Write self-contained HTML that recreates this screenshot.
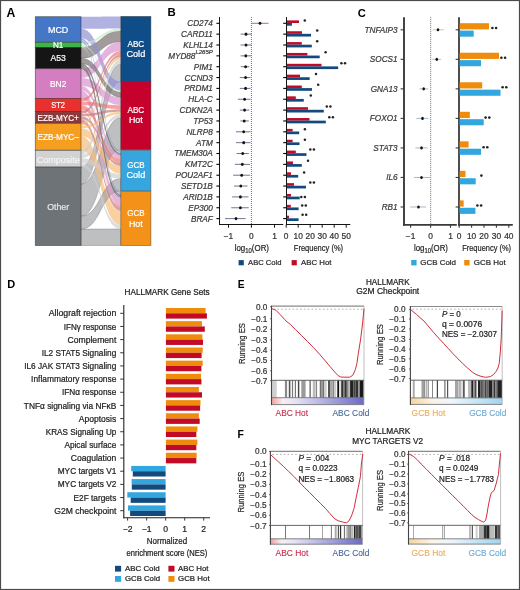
<!DOCTYPE html>
<html><head><meta charset="utf-8"><title>Figure</title>
<style>
html,body{margin:0;padding:0;background:#fff;}
svg{display:block;will-change:transform;filter:blur(0.3px);}
text{font-family:"Liberation Sans", sans-serif;}
</style></head>
<body>
<svg width="520" height="590" viewBox="0 0 520 590" font-family='"Liberation Sans", sans-serif'>
<rect x="0.50" y="0.50" width="519.00" height="589.00" fill="#fff" stroke="#4a4a4a" stroke-width="1.2"/>
<text x="6.60" y="16.84" font-size="12.2" fill="#000" font-weight="bold" >A</text>
<text x="167.60" y="16.45" font-size="11.4" fill="#000" font-weight="bold" >B</text>
<text x="357.70" y="16.73" font-size="11.2" fill="#000" font-weight="bold" >C</text>
<text x="7.20" y="288.16" font-size="11.0" fill="#000" font-weight="bold" >D</text>
<text x="237.70" y="288.07" font-size="10.2" fill="#000" font-weight="bold" >E</text>
<text x="237.60" y="437.84" font-size="10.4" fill="#000" font-weight="bold" >F</text>
<g>
<path d="M81.00,184.10 C100.90,184.10 100.90,117.71 120.80,117.71 L120.80,149.80 C100.90,149.80 100.90,216.10 81.00,216.10 Z" fill="#a2a4a7" fill-opacity="0.7" stroke="#5a5a5a" stroke-opacity="0.45" stroke-width="0.7"/>
<path d="M81.00,167.10 C100.90,167.10 100.90,64.20 120.80,64.20 L120.80,81.60 C100.90,81.60 100.90,184.10 81.00,184.10 Z" fill="#a2a4a7" fill-opacity="0.7" stroke="#5a5a5a" stroke-opacity="0.45" stroke-width="0.7"/>
<path d="M81.00,229.10 C100.90,229.10 100.90,228.95 120.80,228.95 L120.80,245.50 C100.90,245.50 100.90,245.50 81.00,245.50 Z" fill="#a2a4a7" fill-opacity="0.7" stroke="#5a5a5a" stroke-opacity="0.45" stroke-width="0.7"/>
<path d="M81.00,136.30 C100.90,136.30 100.90,210.78 120.80,210.78 L120.80,224.91 C100.90,224.91 100.90,150.30 81.00,150.30 Z" fill="#f8bc78" fill-opacity="0.7" stroke="none" stroke-opacity="0.45" stroke-width="0.7"/>
<path d="M81.00,216.10 C100.90,216.10 100.90,178.54 120.80,178.54 L120.80,190.90 C100.90,190.90 100.90,229.10 81.00,229.10 Z" fill="#a2a4a7" fill-opacity="0.7" stroke="#5a5a5a" stroke-opacity="0.45" stroke-width="0.7"/>
<path d="M81.00,16.70 C100.90,16.70 100.90,16.40 120.80,16.40 L120.80,28.38 C100.90,28.38 100.90,28.83 81.00,28.83 Z" fill="#9092d6" fill-opacity="0.7" stroke="none" stroke-opacity="0.45" stroke-width="0.7"/>
<path d="M81.00,47.50 C100.90,47.50 100.90,30.93 120.80,30.93 L120.80,41.68 C100.90,41.68 100.90,58.36 81.00,58.36 Z" fill="#7a7070" fill-opacity="0.7" stroke="#5a5a5a" stroke-opacity="0.45" stroke-width="0.7"/>
<path d="M81.00,28.83 C100.90,28.83 100.90,81.60 120.80,81.60 L120.80,90.63 C100.90,90.63 100.90,38.15 81.00,38.15 Z" fill="#9092d6" fill-opacity="0.7" stroke="none" stroke-opacity="0.45" stroke-width="0.7"/>
<path d="M81.00,68.70 C100.90,68.70 100.90,41.68 120.80,41.68 L120.80,50.89 C100.90,50.89 100.90,77.92 81.00,77.92 Z" fill="#da94d0" fill-opacity="0.7" stroke="none" stroke-opacity="0.45" stroke-width="0.7"/>
<path d="M81.00,77.92 C100.90,77.92 100.90,97.15 120.80,97.15 L120.80,105.17 C100.90,105.17 100.90,86.11 81.00,86.11 Z" fill="#da94d0" fill-opacity="0.7" stroke="none" stroke-opacity="0.45" stroke-width="0.7"/>
<path d="M81.00,90.21 C100.90,90.21 100.90,197.15 120.80,197.15 L120.80,205.23 C100.90,205.23 100.90,98.40 81.00,98.40 Z" fill="#da94d0" fill-opacity="0.7" stroke="none" stroke-opacity="0.45" stroke-width="0.7"/>
<path d="M81.00,128.30 C100.90,128.30 100.90,166.18 120.80,166.18 L120.80,173.79 C100.90,173.79 100.90,136.30 81.00,136.30 Z" fill="#f8bc78" fill-opacity="0.7" stroke="none" stroke-opacity="0.45" stroke-width="0.7"/>
<path d="M81.00,58.36 C100.90,58.36 100.90,92.13 120.80,92.13 L120.80,97.15 C100.90,97.15 100.90,63.53 81.00,63.53 Z" fill="#7a7070" fill-opacity="0.7" stroke="#5a5a5a" stroke-opacity="0.45" stroke-width="0.7"/>
<path d="M81.00,158.21 C100.90,158.21 100.90,173.79 120.80,173.79 L120.80,178.54 C100.90,178.54 100.90,163.15 81.00,163.15 Z" fill="#cfcfcf" fill-opacity="0.7" stroke="none" stroke-opacity="0.45" stroke-width="0.7"/>
<path d="M81.00,105.36 C100.90,105.36 100.90,158.58 120.80,158.58 L120.80,163.33 C100.90,163.33 100.90,110.01 81.00,110.01 Z" fill="#ee7a76" fill-opacity="0.7" stroke="none" stroke-opacity="0.45" stroke-width="0.7"/>
<path d="M81.00,150.30 C100.90,150.30 100.90,59.59 120.80,59.59 L120.80,64.20 C100.90,64.20 100.90,154.75 81.00,154.75 Z" fill="#cfcfcf" fill-opacity="0.7" stroke="none" stroke-opacity="0.45" stroke-width="0.7"/>
<path d="M81.00,86.11 C100.90,86.11 100.90,154.77 120.80,154.77 L120.80,158.58 C100.90,158.58 100.90,90.21 81.00,90.21 Z" fill="#da94d0" fill-opacity="0.7" stroke="none" stroke-opacity="0.45" stroke-width="0.7"/>
<path d="M81.00,119.33 C100.90,119.33 100.90,206.74 120.80,206.74 L120.80,210.78 C100.90,210.78 100.90,123.30 81.00,123.30 Z" fill="#c77c7e" fill-opacity="0.7" stroke="none" stroke-opacity="0.45" stroke-width="0.7"/>
<path d="M81.00,163.15 C100.90,163.15 100.90,224.91 120.80,224.91 L120.80,228.95 C100.90,228.95 100.90,167.10 81.00,167.10 Z" fill="#cfcfcf" fill-opacity="0.7" stroke="none" stroke-opacity="0.45" stroke-width="0.7"/>
<path d="M81.00,101.65 C100.90,101.65 100.90,105.17 120.80,105.17 L120.80,109.18 C100.90,109.18 100.90,105.36 81.00,105.36 Z" fill="#ee7a76" fill-opacity="0.7" stroke="none" stroke-opacity="0.45" stroke-width="0.7"/>
<path d="M81.00,154.75 C100.90,154.75 100.90,114.20 120.80,114.20 L120.80,117.71 C100.90,117.71 100.90,158.21 81.00,158.21 Z" fill="#cfcfcf" fill-opacity="0.7" stroke="none" stroke-opacity="0.45" stroke-width="0.7"/>
<path d="M81.00,98.40 C100.90,98.40 100.90,50.89 120.80,50.89 L120.80,54.48 C100.90,54.48 100.90,101.65 81.00,101.65 Z" fill="#ee7a76" fill-opacity="0.7" stroke="none" stroke-opacity="0.45" stroke-width="0.7"/>
<path d="M81.00,65.60 C100.90,65.60 100.90,194.12 120.80,194.12 L120.80,197.15 C100.90,197.15 100.90,68.70 81.00,68.70 Z" fill="#7a7070" fill-opacity="0.7" stroke="#5a5a5a" stroke-opacity="0.45" stroke-width="0.7"/>
<path d="M81.00,116.36 C100.90,116.36 100.90,163.33 120.80,163.33 L120.80,166.18 C100.90,166.18 100.90,119.33 81.00,119.33 Z" fill="#c77c7e" fill-opacity="0.7" stroke="none" stroke-opacity="0.45" stroke-width="0.7"/>
<path d="M81.00,125.80 C100.90,125.80 100.90,111.69 120.80,111.69 L120.80,114.20 C100.90,114.20 100.90,128.30 81.00,128.30 Z" fill="#f8bc78" fill-opacity="0.7" stroke="none" stroke-opacity="0.45" stroke-width="0.7"/>
<path d="M81.00,42.30 C100.90,42.30 100.90,28.38 120.80,28.38 L120.80,30.93 C100.90,30.93 100.90,44.80 81.00,44.80 Z" fill="#c4e8c8" fill-opacity="0.7" stroke="none" stroke-opacity="0.45" stroke-width="0.7"/>
<path d="M81.00,123.30 C100.90,123.30 100.90,57.03 120.80,57.03 L120.80,59.59 C100.90,59.59 100.90,125.80 81.00,125.80 Z" fill="#f8bc78" fill-opacity="0.7" stroke="none" stroke-opacity="0.45" stroke-width="0.7"/>
<path d="M81.00,111.40 C100.90,111.40 100.90,54.48 120.80,54.48 L120.80,57.03 C100.90,57.03 100.90,113.88 81.00,113.88 Z" fill="#c77c7e" fill-opacity="0.7" stroke="none" stroke-opacity="0.45" stroke-width="0.7"/>
<path d="M81.00,113.88 C100.90,113.88 100.90,109.18 120.80,109.18 L120.80,111.69 C100.90,111.69 100.90,116.36 81.00,116.36 Z" fill="#c77c7e" fill-opacity="0.7" stroke="none" stroke-opacity="0.45" stroke-width="0.7"/>
<path d="M81.00,38.15 C100.90,38.15 100.90,150.40 120.80,150.40 L120.80,152.30 C100.90,152.30 100.90,40.23 81.00,40.23 Z" fill="#9092d6" fill-opacity="0.7" stroke="none" stroke-opacity="0.45" stroke-width="0.7"/>
<path d="M81.00,40.23 C100.90,40.23 100.90,191.50 120.80,191.50 L120.80,193.52 C100.90,193.52 100.90,42.30 81.00,42.30 Z" fill="#9092d6" fill-opacity="0.7" stroke="none" stroke-opacity="0.45" stroke-width="0.7"/>
<path d="M81.00,63.53 C100.90,63.53 100.90,152.87 120.80,152.87 L120.80,154.77 C100.90,154.77 100.90,65.60 81.00,65.60 Z" fill="#7a7070" fill-opacity="0.7" stroke="#5a5a5a" stroke-opacity="0.45" stroke-width="0.7"/>
<path d="M81.00,44.80 C100.90,44.80 100.90,90.63 120.80,90.63 L120.80,92.13 C100.90,92.13 100.90,46.30 81.00,46.30 Z" fill="#c4e8c8" fill-opacity="0.7" stroke="none" stroke-opacity="0.45" stroke-width="0.7"/>
<path d="M81.00,110.01 C100.90,110.01 100.90,205.23 120.80,205.23 L120.80,206.74 C100.90,206.74 100.90,111.40 81.00,111.40 Z" fill="#ee7a76" fill-opacity="0.7" stroke="none" stroke-opacity="0.45" stroke-width="0.7"/>
<path d="M81.00,46.30 C100.90,46.30 100.90,152.30 120.80,152.30 L120.80,152.87 C100.90,152.87 100.90,46.90 81.00,46.90 Z" fill="#c4e8c8" fill-opacity="0.7" stroke="none" stroke-opacity="0.45" stroke-width="0.7"/>
<path d="M81.00,46.90 C100.90,46.90 100.90,193.52 120.80,193.52 L120.80,194.12 C100.90,194.12 100.90,47.50 81.00,47.50 Z" fill="#c4e8c8" fill-opacity="0.7" stroke="none" stroke-opacity="0.45" stroke-width="0.7"/>
</g>
<rect x="35.30" y="16.70" width="45.70" height="25.60" fill="#4677c7" stroke="#2a2a2a" stroke-opacity="0.6" stroke-width="0.8"/>
<rect x="35.30" y="42.30" width="45.70" height="5.20" fill="#3fb44a" stroke="#2a2a2a" stroke-opacity="0.6" stroke-width="0.8"/>
<rect x="35.30" y="47.50" width="45.70" height="21.20" fill="#151515" stroke="#2a2a2a" stroke-opacity="0.6" stroke-width="0.8"/>
<rect x="35.30" y="68.70" width="45.70" height="29.70" fill="#d57dc1" stroke="#2a2a2a" stroke-opacity="0.6" stroke-width="0.8"/>
<rect x="35.30" y="98.40" width="45.70" height="13.00" fill="#e8302e" stroke="#2a2a2a" stroke-opacity="0.6" stroke-width="0.8"/>
<rect x="35.30" y="111.40" width="45.70" height="11.90" fill="#8e3a3c" stroke="#2a2a2a" stroke-opacity="0.6" stroke-width="0.8"/>
<rect x="35.30" y="123.30" width="45.70" height="27.00" fill="#f59e1f" stroke="#2a2a2a" stroke-opacity="0.6" stroke-width="0.8"/>
<rect x="35.30" y="150.30" width="45.70" height="16.80" fill="#d2d2d2" stroke="#2a2a2a" stroke-opacity="0.6" stroke-width="0.8"/>
<rect x="35.30" y="167.10" width="45.70" height="78.40" fill="#6e7377" stroke="#2a2a2a" stroke-opacity="0.6" stroke-width="0.8"/>
<rect x="120.80" y="16.40" width="30.10" height="65.20" fill="#0f4d88" stroke="#2a2a2a" stroke-opacity="0.5" stroke-width="0.8"/>
<rect x="120.80" y="81.60" width="30.10" height="68.20" fill="#c6022c" stroke="#2a2a2a" stroke-opacity="0.5" stroke-width="0.8"/>
<rect x="120.80" y="150.40" width="30.10" height="40.50" fill="#38a6de" stroke="#2a2a2a" stroke-opacity="0.5" stroke-width="0.8"/>
<rect x="120.80" y="191.50" width="30.10" height="54.00" fill="#f39119" stroke="#2a2a2a" stroke-opacity="0.5" stroke-width="0.8"/>
<text x="48.00" y="32.61" font-size="9.2" fill="#fff" stroke="#fff" stroke-width="0.22" textLength="20.30" lengthAdjust="spacingAndGlyphs" >MCD</text>
<text x="52.90" y="48.31" font-size="9.2" fill="#fff" stroke="#fff" stroke-width="0.22" textLength="10.50" lengthAdjust="spacingAndGlyphs" >N1</text>
<text x="50.50" y="60.91" font-size="9.2" fill="#fff" stroke="#fff" stroke-width="0.22" textLength="15.30" lengthAdjust="spacingAndGlyphs" >A53</text>
<text x="50.00" y="87.11" font-size="9.2" fill="#fff" stroke="#fff" stroke-width="0.22" textLength="16.30" lengthAdjust="spacingAndGlyphs" >BN2</text>
<text x="51.25" y="107.91" font-size="9.2" fill="#fff" stroke="#fff" stroke-width="0.22" textLength="13.80" lengthAdjust="spacingAndGlyphs" >ST2</text>
<text x="37.50" y="120.61" font-size="9.2" fill="#fff" stroke="#fff" stroke-width="0.22" textLength="41.30" lengthAdjust="spacingAndGlyphs" >EZB-MYC+</text>
<text x="37.50" y="139.71" font-size="9.2" fill="#fff" stroke="#fff" stroke-width="0.22" textLength="41.30" lengthAdjust="spacingAndGlyphs" >EZB-MYC–</text>
<text x="36.65" y="162.71" font-size="9.2" fill="#f4f4f4" stroke="#f4f4f4" stroke-width="0.22" textLength="43.00" lengthAdjust="spacingAndGlyphs" >Composite</text>
<text x="47.15" y="209.61" font-size="9.2" fill="#e6e6e6" stroke="#e6e6e6" stroke-width="0.22" textLength="22.00" lengthAdjust="spacingAndGlyphs" >Other</text>
<text x="127.45" y="47.11" font-size="9.2" fill="#fff" stroke="#fff" stroke-width="0.22" textLength="16.80" lengthAdjust="spacingAndGlyphs" >ABC</text>
<text x="126.45" y="57.21" font-size="9.2" fill="#fff" stroke="#fff" stroke-width="0.22" textLength="18.80" lengthAdjust="spacingAndGlyphs" >Cold</text>
<text x="127.45" y="113.31" font-size="9.2" fill="#fff" stroke="#fff" stroke-width="0.22" textLength="16.80" lengthAdjust="spacingAndGlyphs" >ABC</text>
<text x="128.95" y="123.41" font-size="9.2" fill="#fff" stroke="#fff" stroke-width="0.22" textLength="13.80" lengthAdjust="spacingAndGlyphs" >Hot</text>
<text x="127.25" y="168.31" font-size="9.2" fill="#fff" stroke="#fff" stroke-width="0.22" textLength="17.20" lengthAdjust="spacingAndGlyphs" >GCB</text>
<text x="126.45" y="178.41" font-size="9.2" fill="#fff" stroke="#fff" stroke-width="0.22" textLength="18.80" lengthAdjust="spacingAndGlyphs" >Cold</text>
<text x="127.25" y="215.81" font-size="9.2" fill="#fff" stroke="#fff" stroke-width="0.22" textLength="17.20" lengthAdjust="spacingAndGlyphs" >GCB</text>
<text x="128.95" y="226.61" font-size="9.2" fill="#fff" stroke="#fff" stroke-width="0.22" textLength="13.80" lengthAdjust="spacingAndGlyphs" >Hot</text>
<text x="212.80" y="26.25" font-size="8.2" fill="#3a3a3a" stroke="#3a3a3a" stroke-width="0.22" text-anchor="end" font-style="italic" >CD274</text>
<text x="212.80" y="37.10" font-size="8.2" fill="#3a3a3a" stroke="#3a3a3a" stroke-width="0.22" text-anchor="end" font-style="italic" >CARD11</text>
<text x="212.80" y="47.95" font-size="8.2" fill="#3a3a3a" stroke="#3a3a3a" stroke-width="0.22" text-anchor="end" font-style="italic" >KLHL14</text>
<text x="212.8" y="58.80" font-size="8.2" fill="#3a3a3a" font-style="italic" text-anchor="end" stroke="#3a3a3a" stroke-width="0.22">MYD88<tspan font-size="6.0" dy="-4.4">L265P</tspan></text>
<text x="212.80" y="69.65" font-size="8.2" fill="#3a3a3a" stroke="#3a3a3a" stroke-width="0.22" text-anchor="end" font-style="italic" >PIM1</text>
<text x="212.80" y="80.50" font-size="8.2" fill="#3a3a3a" stroke="#3a3a3a" stroke-width="0.22" text-anchor="end" font-style="italic" >CCND3</text>
<text x="212.80" y="91.35" font-size="8.2" fill="#3a3a3a" stroke="#3a3a3a" stroke-width="0.22" text-anchor="end" font-style="italic" >PRDM1</text>
<text x="212.80" y="102.20" font-size="8.2" fill="#3a3a3a" stroke="#3a3a3a" stroke-width="0.22" text-anchor="end" font-style="italic" >HLA-C</text>
<text x="212.80" y="113.05" font-size="8.2" fill="#3a3a3a" stroke="#3a3a3a" stroke-width="0.22" text-anchor="end" font-style="italic" >CDKN2A</text>
<text x="212.80" y="123.90" font-size="8.2" fill="#3a3a3a" stroke="#3a3a3a" stroke-width="0.22" text-anchor="end" font-style="italic" >TP53</text>
<text x="212.80" y="134.75" font-size="8.2" fill="#3a3a3a" stroke="#3a3a3a" stroke-width="0.22" text-anchor="end" font-style="italic" >NLRP8</text>
<text x="212.80" y="145.60" font-size="8.2" fill="#3a3a3a" stroke="#3a3a3a" stroke-width="0.22" text-anchor="end" font-style="italic" >ATM</text>
<text x="212.80" y="156.45" font-size="8.2" fill="#3a3a3a" stroke="#3a3a3a" stroke-width="0.22" text-anchor="end" font-style="italic" >TMEM30A</text>
<text x="212.80" y="167.30" font-size="8.2" fill="#3a3a3a" stroke="#3a3a3a" stroke-width="0.22" text-anchor="end" font-style="italic" >KMT2C</text>
<text x="212.80" y="178.15" font-size="8.2" fill="#3a3a3a" stroke="#3a3a3a" stroke-width="0.22" text-anchor="end" font-style="italic" >POU2AF1</text>
<text x="212.80" y="189.00" font-size="8.2" fill="#3a3a3a" stroke="#3a3a3a" stroke-width="0.22" text-anchor="end" font-style="italic" >SETD1B</text>
<text x="212.80" y="199.85" font-size="8.2" fill="#3a3a3a" stroke="#3a3a3a" stroke-width="0.22" text-anchor="end" font-style="italic" >ARID1B</text>
<text x="212.80" y="210.70" font-size="8.2" fill="#3a3a3a" stroke="#3a3a3a" stroke-width="0.22" text-anchor="end" font-style="italic" >EP300</text>
<text x="212.80" y="221.55" font-size="8.2" fill="#3a3a3a" stroke="#3a3a3a" stroke-width="0.22" text-anchor="end" font-style="italic" >BRAF</text>
<line x1="219.50" y1="17.00" x2="219.50" y2="225.00" stroke="#151515" stroke-width="1.0" />
<line x1="219.00" y1="224.50" x2="283.20" y2="224.50" stroke="#151515" stroke-width="1.0" />
<line x1="216.40" y1="23.30" x2="219.50" y2="23.30" stroke="#000" stroke-width="1.1" />
<line x1="216.40" y1="34.15" x2="219.50" y2="34.15" stroke="#000" stroke-width="1.1" />
<line x1="216.40" y1="45.00" x2="219.50" y2="45.00" stroke="#000" stroke-width="1.1" />
<line x1="216.40" y1="55.85" x2="219.50" y2="55.85" stroke="#000" stroke-width="1.1" />
<line x1="216.40" y1="66.70" x2="219.50" y2="66.70" stroke="#000" stroke-width="1.1" />
<line x1="216.40" y1="77.55" x2="219.50" y2="77.55" stroke="#000" stroke-width="1.1" />
<line x1="216.40" y1="88.40" x2="219.50" y2="88.40" stroke="#000" stroke-width="1.1" />
<line x1="216.40" y1="99.25" x2="219.50" y2="99.25" stroke="#000" stroke-width="1.1" />
<line x1="216.40" y1="110.10" x2="219.50" y2="110.10" stroke="#000" stroke-width="1.1" />
<line x1="216.40" y1="120.95" x2="219.50" y2="120.95" stroke="#000" stroke-width="1.1" />
<line x1="216.40" y1="131.80" x2="219.50" y2="131.80" stroke="#000" stroke-width="1.1" />
<line x1="216.40" y1="142.65" x2="219.50" y2="142.65" stroke="#000" stroke-width="1.1" />
<line x1="216.40" y1="153.50" x2="219.50" y2="153.50" stroke="#000" stroke-width="1.1" />
<line x1="216.40" y1="164.35" x2="219.50" y2="164.35" stroke="#000" stroke-width="1.1" />
<line x1="216.40" y1="175.20" x2="219.50" y2="175.20" stroke="#000" stroke-width="1.1" />
<line x1="216.40" y1="186.05" x2="219.50" y2="186.05" stroke="#000" stroke-width="1.1" />
<line x1="216.40" y1="196.90" x2="219.50" y2="196.90" stroke="#000" stroke-width="1.1" />
<line x1="216.40" y1="207.75" x2="219.50" y2="207.75" stroke="#000" stroke-width="1.1" />
<line x1="216.40" y1="218.60" x2="219.50" y2="218.60" stroke="#000" stroke-width="1.1" />
<line x1="228.50" y1="224.50" x2="228.50" y2="227.70" stroke="#151515" stroke-width="1.0" />
<text x="228.50" y="239.22" font-size="8.4" fill="#333" stroke="#333" stroke-width="0.22" text-anchor="middle" >−1</text>
<line x1="251.40" y1="224.50" x2="251.40" y2="227.70" stroke="#151515" stroke-width="1.0" />
<text x="251.40" y="239.22" font-size="8.4" fill="#333" stroke="#333" stroke-width="0.22" text-anchor="middle" >0</text>
<line x1="274.50" y1="224.50" x2="274.50" y2="227.70" stroke="#151515" stroke-width="1.0" />
<text x="274.50" y="239.22" font-size="8.4" fill="#333" stroke="#333" stroke-width="0.22" text-anchor="middle" >1</text>
<line x1="251.40" y1="17.00" x2="251.40" y2="224.20" stroke="#333" stroke-width="0.7" stroke-dasharray="1,1"/>
<line x1="251.70" y1="23.30" x2="268.50" y2="23.30" stroke="#9a4a5a" stroke-width="0.8" />
<ellipse cx="260.00" cy="23.30" rx="1.4" ry="1.55" fill="#111"/>
<line x1="240.60" y1="34.15" x2="251.70" y2="34.15" stroke="#4c5572" stroke-width="0.8" />
<ellipse cx="246.00" cy="34.15" rx="1.4" ry="1.55" fill="#111"/>
<line x1="240.60" y1="45.00" x2="251.50" y2="45.00" stroke="#4c5572" stroke-width="0.8" />
<ellipse cx="246.00" cy="45.00" rx="1.4" ry="1.55" fill="#111"/>
<line x1="240.60" y1="55.85" x2="251.30" y2="55.85" stroke="#4c5572" stroke-width="0.8" />
<ellipse cx="245.80" cy="55.85" rx="1.4" ry="1.55" fill="#111"/>
<line x1="240.80" y1="66.70" x2="249.40" y2="66.70" stroke="#4c5572" stroke-width="0.8" />
<ellipse cx="245.60" cy="66.70" rx="1.4" ry="1.55" fill="#111"/>
<line x1="239.80" y1="77.55" x2="250.40" y2="77.55" stroke="#4c5572" stroke-width="0.8" />
<ellipse cx="245.60" cy="77.55" rx="1.4" ry="1.55" fill="#111"/>
<line x1="239.80" y1="88.40" x2="250.40" y2="88.40" stroke="#4c5572" stroke-width="0.8" />
<ellipse cx="245.60" cy="88.40" rx="1.4" ry="1.55" fill="#111"/>
<line x1="237.90" y1="99.25" x2="250.40" y2="99.25" stroke="#4c5572" stroke-width="0.8" />
<ellipse cx="244.60" cy="99.25" rx="1.4" ry="1.55" fill="#111"/>
<line x1="239.80" y1="110.10" x2="249.40" y2="110.10" stroke="#4c5572" stroke-width="0.8" />
<ellipse cx="244.60" cy="110.10" rx="1.4" ry="1.55" fill="#111"/>
<line x1="240.40" y1="120.95" x2="248.80" y2="120.95" stroke="#4c5572" stroke-width="0.8" />
<ellipse cx="244.20" cy="120.95" rx="1.4" ry="1.55" fill="#111"/>
<line x1="236.00" y1="131.80" x2="250.40" y2="131.80" stroke="#4c5572" stroke-width="0.8" />
<ellipse cx="243.70" cy="131.80" rx="1.4" ry="1.55" fill="#111"/>
<line x1="236.00" y1="142.65" x2="250.40" y2="142.65" stroke="#4c5572" stroke-width="0.8" />
<ellipse cx="243.70" cy="142.65" rx="1.4" ry="1.55" fill="#111"/>
<line x1="236.50" y1="153.50" x2="248.80" y2="153.50" stroke="#4c5572" stroke-width="0.8" />
<ellipse cx="242.70" cy="153.50" rx="1.4" ry="1.55" fill="#111"/>
<line x1="235.00" y1="164.35" x2="250.00" y2="164.35" stroke="#4c5572" stroke-width="0.8" />
<ellipse cx="242.30" cy="164.35" rx="1.4" ry="1.55" fill="#111"/>
<line x1="233.10" y1="175.20" x2="250.00" y2="175.20" stroke="#4c5572" stroke-width="0.8" />
<ellipse cx="241.70" cy="175.20" rx="1.4" ry="1.55" fill="#111"/>
<line x1="234.00" y1="186.05" x2="247.50" y2="186.05" stroke="#4c5572" stroke-width="0.8" />
<ellipse cx="240.80" cy="186.05" rx="1.4" ry="1.55" fill="#111"/>
<line x1="232.10" y1="196.90" x2="248.50" y2="196.90" stroke="#4c5572" stroke-width="0.8" />
<ellipse cx="240.40" cy="196.90" rx="1.4" ry="1.55" fill="#111"/>
<line x1="231.20" y1="207.75" x2="248.80" y2="207.75" stroke="#4c5572" stroke-width="0.8" />
<ellipse cx="240.40" cy="207.75" rx="1.4" ry="1.55" fill="#111"/>
<line x1="225.00" y1="218.60" x2="245.60" y2="218.60" stroke="#4c5572" stroke-width="0.8" />
<ellipse cx="236.00" cy="218.60" rx="1.4" ry="1.55" fill="#111"/>
<line x1="286.50" y1="17.00" x2="286.50" y2="225.00" stroke="#151515" stroke-width="1.0" />
<line x1="286.00" y1="224.50" x2="350.30" y2="224.50" stroke="#151515" stroke-width="1.0" />
<line x1="283.20" y1="23.30" x2="286.50" y2="23.30" stroke="#000" stroke-width="1.1" />
<line x1="283.20" y1="34.15" x2="286.50" y2="34.15" stroke="#000" stroke-width="1.1" />
<line x1="283.20" y1="45.00" x2="286.50" y2="45.00" stroke="#000" stroke-width="1.1" />
<line x1="283.20" y1="55.85" x2="286.50" y2="55.85" stroke="#000" stroke-width="1.1" />
<line x1="283.20" y1="66.70" x2="286.50" y2="66.70" stroke="#000" stroke-width="1.1" />
<line x1="283.20" y1="77.55" x2="286.50" y2="77.55" stroke="#000" stroke-width="1.1" />
<line x1="283.20" y1="88.40" x2="286.50" y2="88.40" stroke="#000" stroke-width="1.1" />
<line x1="283.20" y1="99.25" x2="286.50" y2="99.25" stroke="#000" stroke-width="1.1" />
<line x1="283.20" y1="110.10" x2="286.50" y2="110.10" stroke="#000" stroke-width="1.1" />
<line x1="283.20" y1="120.95" x2="286.50" y2="120.95" stroke="#000" stroke-width="1.1" />
<line x1="283.20" y1="131.80" x2="286.50" y2="131.80" stroke="#000" stroke-width="1.1" />
<line x1="283.20" y1="142.65" x2="286.50" y2="142.65" stroke="#000" stroke-width="1.1" />
<line x1="283.20" y1="153.50" x2="286.50" y2="153.50" stroke="#000" stroke-width="1.1" />
<line x1="283.20" y1="164.35" x2="286.50" y2="164.35" stroke="#000" stroke-width="1.1" />
<line x1="283.20" y1="175.20" x2="286.50" y2="175.20" stroke="#000" stroke-width="1.1" />
<line x1="283.20" y1="186.05" x2="286.50" y2="186.05" stroke="#000" stroke-width="1.1" />
<line x1="283.20" y1="196.90" x2="286.50" y2="196.90" stroke="#000" stroke-width="1.1" />
<line x1="283.20" y1="207.75" x2="286.50" y2="207.75" stroke="#000" stroke-width="1.1" />
<line x1="283.20" y1="218.60" x2="286.50" y2="218.60" stroke="#000" stroke-width="1.1" />
<line x1="286.20" y1="224.50" x2="286.20" y2="227.70" stroke="#151515" stroke-width="1.0" />
<text x="286.20" y="239.22" font-size="8.4" fill="#333" stroke="#333" stroke-width="0.22" text-anchor="middle" >0</text>
<line x1="298.20" y1="224.50" x2="298.20" y2="227.70" stroke="#151515" stroke-width="1.0" />
<text x="298.20" y="239.22" font-size="8.4" fill="#333" stroke="#333" stroke-width="0.22" text-anchor="middle" >10</text>
<line x1="310.20" y1="224.50" x2="310.20" y2="227.70" stroke="#151515" stroke-width="1.0" />
<text x="310.20" y="239.22" font-size="8.4" fill="#333" stroke="#333" stroke-width="0.22" text-anchor="middle" >20</text>
<line x1="322.20" y1="224.50" x2="322.20" y2="227.70" stroke="#151515" stroke-width="1.0" />
<text x="322.20" y="239.22" font-size="8.4" fill="#333" stroke="#333" stroke-width="0.22" text-anchor="middle" >30</text>
<line x1="334.20" y1="224.50" x2="334.20" y2="227.70" stroke="#151515" stroke-width="1.0" />
<text x="334.20" y="239.22" font-size="8.4" fill="#333" stroke="#333" stroke-width="0.22" text-anchor="middle" >40</text>
<line x1="346.20" y1="224.50" x2="346.20" y2="227.70" stroke="#151515" stroke-width="1.0" />
<text x="346.20" y="239.22" font-size="8.4" fill="#333" stroke="#333" stroke-width="0.22" text-anchor="middle" >50</text>
<rect x="286.90" y="20.40" width="12.10" height="2.60" fill="#c00a26" />
<rect x="286.90" y="23.00" width="5.00" height="2.70" fill="#134a7e" />
<rect x="286.90" y="31.25" width="15.10" height="2.60" fill="#c00a26" />
<rect x="286.90" y="33.85" width="24.10" height="2.70" fill="#134a7e" />
<rect x="286.90" y="42.10" width="14.90" height="2.60" fill="#c00a26" />
<rect x="286.90" y="44.70" width="24.90" height="2.70" fill="#134a7e" />
<rect x="286.90" y="52.95" width="20.50" height="2.60" fill="#c00a26" />
<rect x="286.90" y="55.55" width="32.80" height="2.70" fill="#134a7e" />
<rect x="286.90" y="63.80" width="34.60" height="2.60" fill="#c00a26" />
<rect x="286.90" y="66.40" width="51.30" height="2.70" fill="#134a7e" />
<rect x="286.90" y="74.65" width="13.10" height="2.60" fill="#c00a26" />
<rect x="286.90" y="77.25" width="22.80" height="2.70" fill="#134a7e" />
<rect x="286.90" y="85.50" width="14.90" height="2.60" fill="#c00a26" />
<rect x="286.90" y="88.10" width="25.10" height="2.70" fill="#134a7e" />
<rect x="286.90" y="96.35" width="8.90" height="2.60" fill="#c00a26" />
<rect x="286.90" y="98.95" width="16.90" height="2.70" fill="#134a7e" />
<rect x="286.90" y="107.20" width="21.10" height="2.60" fill="#c00a26" />
<rect x="286.90" y="109.80" width="36.90" height="2.70" fill="#134a7e" />
<rect x="286.90" y="118.05" width="22.60" height="2.60" fill="#c00a26" />
<rect x="286.90" y="120.65" width="38.90" height="2.70" fill="#134a7e" />
<rect x="286.90" y="128.90" width="5.70" height="2.60" fill="#c00a26" />
<rect x="286.90" y="131.50" width="12.30" height="2.70" fill="#134a7e" />
<rect x="286.90" y="139.75" width="5.70" height="2.60" fill="#c00a26" />
<rect x="286.90" y="142.35" width="12.60" height="2.70" fill="#134a7e" />
<rect x="286.90" y="150.60" width="8.90" height="2.60" fill="#c00a26" />
<rect x="286.90" y="153.20" width="19.60" height="2.70" fill="#134a7e" />
<rect x="286.90" y="161.45" width="6.10" height="2.60" fill="#c00a26" />
<rect x="286.90" y="164.05" width="14.90" height="2.70" fill="#134a7e" />
<rect x="286.90" y="172.30" width="4.10" height="2.60" fill="#c00a26" />
<rect x="286.90" y="174.90" width="11.30" height="2.70" fill="#134a7e" />
<rect x="286.90" y="183.15" width="7.10" height="2.60" fill="#c00a26" />
<rect x="286.90" y="185.75" width="19.10" height="2.70" fill="#134a7e" />
<rect x="286.90" y="194.00" width="4.10" height="2.60" fill="#c00a26" />
<rect x="286.90" y="196.60" width="12.80" height="2.70" fill="#134a7e" />
<rect x="286.90" y="204.85" width="3.90" height="2.60" fill="#c00a26" />
<rect x="286.90" y="207.45" width="11.70" height="2.70" fill="#134a7e" />
<rect x="286.90" y="215.70" width="2.10" height="2.60" fill="#c00a26" />
<rect x="286.90" y="218.30" width="11.70" height="2.70" fill="#134a7e" />
<circle cx="304.80" cy="20.40" r="1.25" fill="#222"/>
<circle cx="317.20" cy="30.50" r="1.25" fill="#222"/>
<circle cx="317.20" cy="41.20" r="1.25" fill="#222"/>
<circle cx="325.60" cy="52.20" r="1.25" fill="#222"/>
<circle cx="341.40" cy="63.20" r="1.25" fill="#222"/>
<circle cx="345.00" cy="63.20" r="1.25" fill="#222"/>
<circle cx="316.00" cy="74.00" r="1.25" fill="#222"/>
<circle cx="318.20" cy="84.80" r="1.25" fill="#222"/>
<circle cx="310.80" cy="95.60" r="1.25" fill="#222"/>
<circle cx="326.80" cy="106.60" r="1.25" fill="#222"/>
<circle cx="330.40" cy="106.60" r="1.25" fill="#222"/>
<circle cx="329.30" cy="117.30" r="1.25" fill="#222"/>
<circle cx="332.90" cy="117.30" r="1.25" fill="#222"/>
<circle cx="304.90" cy="129.30" r="1.25" fill="#222"/>
<circle cx="304.90" cy="139.70" r="1.25" fill="#222"/>
<circle cx="310.30" cy="149.40" r="1.25" fill="#222"/>
<circle cx="313.90" cy="149.40" r="1.25" fill="#222"/>
<circle cx="308.00" cy="160.70" r="1.25" fill="#222"/>
<circle cx="304.10" cy="172.40" r="1.25" fill="#222"/>
<circle cx="310.30" cy="182.40" r="1.25" fill="#222"/>
<circle cx="313.90" cy="182.40" r="1.25" fill="#222"/>
<circle cx="301.30" cy="196.90" r="1.25" fill="#222"/>
<circle cx="304.90" cy="196.90" r="1.25" fill="#222"/>
<circle cx="302.20" cy="205.50" r="1.25" fill="#222"/>
<circle cx="305.80" cy="205.50" r="1.25" fill="#222"/>
<circle cx="302.60" cy="214.80" r="1.25" fill="#222"/>
<circle cx="306.20" cy="214.80" r="1.25" fill="#222"/>
<text x="234.70" y="251.06" font-size="9.6" fill="#1e1e1e" stroke="#1e1e1e" stroke-width="0.22" textLength="34.30" lengthAdjust="spacingAndGlyphs" >log<tspan font-size="7.2" dy="2.4">10</tspan><tspan dy="-2.4">(OR)</tspan></text>
<text x="293.80" y="251.13" font-size="9.8" fill="#1e1e1e" stroke="#1e1e1e" stroke-width="0.22" textLength="49.30" lengthAdjust="spacingAndGlyphs" >Frequency (%)</text>
<rect x="238.60" y="260.10" width="5.20" height="5.20" fill="#134a7e" />
<text x="248.10" y="264.94" font-size="7.6" fill="#2a2a2a" stroke="#2a2a2a" stroke-width="0.22" textLength="33.40" lengthAdjust="spacingAndGlyphs" >ABC Cold</text>
<rect x="291.60" y="260.10" width="5.20" height="5.20" fill="#c00a26" />
<text x="300.90" y="264.94" font-size="7.6" fill="#2a2a2a" stroke="#2a2a2a" stroke-width="0.22" textLength="30.60" lengthAdjust="spacingAndGlyphs" >ABC Hot</text>
<text x="397.60" y="32.75" font-size="8.2" fill="#3a3a3a" stroke="#3a3a3a" stroke-width="0.22" text-anchor="end" font-style="italic" >TNFAIP3</text>
<text x="397.60" y="62.28" font-size="8.2" fill="#3a3a3a" stroke="#3a3a3a" stroke-width="0.22" text-anchor="end" font-style="italic" >SOCS1</text>
<text x="397.60" y="91.81" font-size="8.2" fill="#3a3a3a" stroke="#3a3a3a" stroke-width="0.22" text-anchor="end" font-style="italic" >GNA13</text>
<text x="397.60" y="121.34" font-size="8.2" fill="#3a3a3a" stroke="#3a3a3a" stroke-width="0.22" text-anchor="end" font-style="italic" >FOXO1</text>
<text x="397.60" y="150.87" font-size="8.2" fill="#3a3a3a" stroke="#3a3a3a" stroke-width="0.22" text-anchor="end" font-style="italic" >STAT3</text>
<text x="397.60" y="180.40" font-size="8.2" fill="#3a3a3a" stroke="#3a3a3a" stroke-width="0.22" text-anchor="end" font-style="italic" >IL6</text>
<text x="397.60" y="209.93" font-size="8.2" fill="#3a3a3a" stroke="#3a3a3a" stroke-width="0.22" text-anchor="end" font-style="italic" >RB1</text>
<line x1="404.00" y1="17.20" x2="404.00" y2="225.80" stroke="#3a3a3a" stroke-width="1.9" />
<line x1="403.10" y1="224.90" x2="456.80" y2="224.90" stroke="#3a3a3a" stroke-width="1.8" />
<line x1="400.60" y1="29.80" x2="404.00" y2="29.80" stroke="#3a3a3a" stroke-width="1.1" />
<line x1="400.60" y1="59.33" x2="404.00" y2="59.33" stroke="#3a3a3a" stroke-width="1.1" />
<line x1="400.60" y1="88.86" x2="404.00" y2="88.86" stroke="#3a3a3a" stroke-width="1.1" />
<line x1="400.60" y1="118.39" x2="404.00" y2="118.39" stroke="#3a3a3a" stroke-width="1.1" />
<line x1="400.60" y1="147.92" x2="404.00" y2="147.92" stroke="#3a3a3a" stroke-width="1.1" />
<line x1="400.60" y1="177.45" x2="404.00" y2="177.45" stroke="#3a3a3a" stroke-width="1.1" />
<line x1="400.60" y1="206.98" x2="404.00" y2="206.98" stroke="#3a3a3a" stroke-width="1.1" />
<line x1="410.60" y1="224.90" x2="410.60" y2="227.80" stroke="#3a3a3a" stroke-width="1.1" />
<text x="410.60" y="238.92" font-size="8.4" fill="#333" stroke="#333" stroke-width="0.22" text-anchor="middle" >−1</text>
<line x1="430.60" y1="224.90" x2="430.60" y2="227.80" stroke="#3a3a3a" stroke-width="1.1" />
<text x="430.60" y="238.92" font-size="8.4" fill="#333" stroke="#333" stroke-width="0.22" text-anchor="middle" >0</text>
<line x1="450.50" y1="224.90" x2="450.50" y2="227.80" stroke="#3a3a3a" stroke-width="1.1" />
<text x="450.50" y="238.92" font-size="8.4" fill="#333" stroke="#333" stroke-width="0.22" text-anchor="middle" >1</text>
<line x1="430.70" y1="17.20" x2="430.70" y2="224.00" stroke="#333" stroke-width="0.7" stroke-dasharray="1,1"/>
<line x1="432.70" y1="29.80" x2="443.90" y2="29.80" stroke="#dcc2a0" stroke-width="1.0" />
<ellipse cx="438.00" cy="29.80" rx="1.3" ry="1.55" fill="#111"/>
<line x1="432.00" y1="59.33" x2="441.20" y2="59.33" stroke="#dcc2a0" stroke-width="1.0" />
<ellipse cx="436.80" cy="59.33" rx="1.3" ry="1.55" fill="#111"/>
<line x1="419.40" y1="88.86" x2="428.30" y2="88.86" stroke="#a8b8c8" stroke-width="1.0" />
<ellipse cx="423.70" cy="88.86" rx="1.3" ry="1.55" fill="#111"/>
<line x1="416.30" y1="118.39" x2="428.30" y2="118.39" stroke="#a8b8c8" stroke-width="1.0" />
<ellipse cx="422.50" cy="118.39" rx="1.3" ry="1.55" fill="#111"/>
<line x1="415.40" y1="147.92" x2="427.70" y2="147.92" stroke="#a8b8c8" stroke-width="1.0" />
<ellipse cx="421.50" cy="147.92" rx="1.3" ry="1.55" fill="#111"/>
<line x1="413.80" y1="177.45" x2="430.20" y2="177.45" stroke="#a8b8c8" stroke-width="1.0" />
<ellipse cx="421.50" cy="177.45" rx="1.3" ry="1.55" fill="#111"/>
<line x1="410.20" y1="206.98" x2="426.20" y2="206.98" stroke="#a8b8c8" stroke-width="1.0" />
<ellipse cx="418.50" cy="206.98" rx="1.3" ry="1.55" fill="#111"/>
<line x1="459.00" y1="17.20" x2="459.00" y2="225.80" stroke="#3a3a3a" stroke-width="1.8" />
<line x1="458.10" y1="224.90" x2="512.80" y2="224.90" stroke="#3a3a3a" stroke-width="1.8" />
<line x1="455.60" y1="29.80" x2="459.00" y2="29.80" stroke="#3a3a3a" stroke-width="1.1" />
<line x1="455.60" y1="59.33" x2="459.00" y2="59.33" stroke="#3a3a3a" stroke-width="1.1" />
<line x1="455.60" y1="88.86" x2="459.00" y2="88.86" stroke="#3a3a3a" stroke-width="1.1" />
<line x1="455.60" y1="118.39" x2="459.00" y2="118.39" stroke="#3a3a3a" stroke-width="1.1" />
<line x1="455.60" y1="147.92" x2="459.00" y2="147.92" stroke="#3a3a3a" stroke-width="1.1" />
<line x1="455.60" y1="177.45" x2="459.00" y2="177.45" stroke="#3a3a3a" stroke-width="1.1" />
<line x1="455.60" y1="206.98" x2="459.00" y2="206.98" stroke="#3a3a3a" stroke-width="1.1" />
<line x1="459.20" y1="224.90" x2="459.20" y2="227.80" stroke="#3a3a3a" stroke-width="1.1" />
<text x="459.20" y="238.92" font-size="8.4" fill="#333" stroke="#333" stroke-width="0.22" text-anchor="middle" >0</text>
<line x1="471.60" y1="224.90" x2="471.60" y2="227.80" stroke="#3a3a3a" stroke-width="1.1" />
<text x="471.60" y="238.92" font-size="8.4" fill="#333" stroke="#333" stroke-width="0.22" text-anchor="middle" >10</text>
<line x1="484.00" y1="224.90" x2="484.00" y2="227.80" stroke="#3a3a3a" stroke-width="1.1" />
<text x="484.00" y="238.92" font-size="8.4" fill="#333" stroke="#333" stroke-width="0.22" text-anchor="middle" >20</text>
<line x1="496.40" y1="224.90" x2="496.40" y2="227.80" stroke="#3a3a3a" stroke-width="1.1" />
<text x="496.40" y="238.92" font-size="8.4" fill="#333" stroke="#333" stroke-width="0.22" text-anchor="middle" >30</text>
<line x1="508.80" y1="224.90" x2="508.80" y2="227.80" stroke="#3a3a3a" stroke-width="1.1" />
<text x="508.80" y="238.92" font-size="8.4" fill="#333" stroke="#333" stroke-width="0.22" text-anchor="middle" >40</text>
<rect x="459.60" y="23.20" width="29.40" height="6.20" fill="#f08c0c" />
<rect x="459.60" y="30.60" width="14.10" height="6.10" fill="#31a6df" />
<rect x="459.60" y="52.73" width="39.40" height="6.20" fill="#f08c0c" />
<rect x="459.60" y="60.13" width="21.40" height="6.10" fill="#31a6df" />
<rect x="459.60" y="82.26" width="22.60" height="6.20" fill="#f08c0c" />
<rect x="459.60" y="89.66" width="40.90" height="6.10" fill="#31a6df" />
<rect x="459.60" y="111.79" width="10.20" height="6.20" fill="#f08c0c" />
<rect x="459.60" y="119.19" width="24.10" height="6.10" fill="#31a6df" />
<rect x="459.60" y="141.32" width="9.00" height="6.20" fill="#f08c0c" />
<rect x="459.60" y="148.72" width="21.40" height="6.10" fill="#31a6df" />
<rect x="459.60" y="170.85" width="5.90" height="6.20" fill="#f08c0c" />
<rect x="459.60" y="178.25" width="16.10" height="6.10" fill="#31a6df" />
<rect x="459.60" y="200.38" width="4.10" height="6.20" fill="#f08c0c" />
<rect x="459.60" y="207.78" width="15.80" height="6.10" fill="#31a6df" />
<circle cx="492.40" cy="28.00" r="1.3" fill="#222"/>
<circle cx="496.10" cy="28.00" r="1.3" fill="#222"/>
<circle cx="501.40" cy="57.80" r="1.3" fill="#222"/>
<circle cx="505.10" cy="57.80" r="1.3" fill="#222"/>
<circle cx="502.60" cy="87.20" r="1.3" fill="#222"/>
<circle cx="506.30" cy="87.20" r="1.3" fill="#222"/>
<circle cx="485.60" cy="117.60" r="1.3" fill="#222"/>
<circle cx="489.30" cy="117.60" r="1.3" fill="#222"/>
<circle cx="483.60" cy="147.20" r="1.3" fill="#222"/>
<circle cx="487.30" cy="147.20" r="1.3" fill="#222"/>
<circle cx="481.40" cy="175.60" r="1.3" fill="#222"/>
<circle cx="477.40" cy="205.50" r="1.3" fill="#222"/>
<circle cx="481.10" cy="205.50" r="1.3" fill="#222"/>
<text x="414.00" y="251.06" font-size="9.6" fill="#1e1e1e" stroke="#1e1e1e" stroke-width="0.22" textLength="33.90" lengthAdjust="spacingAndGlyphs" >log<tspan font-size="7.2" dy="2.4">10</tspan><tspan dy="-2.4">(OR)</tspan></text>
<text x="462.20" y="251.13" font-size="9.8" fill="#1e1e1e" stroke="#1e1e1e" stroke-width="0.22" textLength="48.80" lengthAdjust="spacingAndGlyphs" >Frequency (%)</text>
<rect x="411.20" y="260.00" width="5.40" height="5.40" fill="#31a6df" />
<text x="420.30" y="265.14" font-size="7.6" fill="#2a2a2a" stroke="#2a2a2a" stroke-width="0.22" textLength="35.70" lengthAdjust="spacingAndGlyphs" >GCB Cold</text>
<rect x="464.20" y="260.00" width="5.40" height="5.40" fill="#f08c0c" />
<text x="473.80" y="265.14" font-size="7.6" fill="#2a2a2a" stroke="#2a2a2a" stroke-width="0.22" textLength="31.90" lengthAdjust="spacingAndGlyphs" >GCB Hot</text>
<text x="124.60" y="295.02" font-size="8.4" fill="#1a1a1a" stroke="#1a1a1a" stroke-width="0.22" textLength="85.00" lengthAdjust="spacingAndGlyphs" >HALLMARK Gene Sets</text>
<text x="48.70" y="316.40" font-size="8.6" fill="#222" stroke="#222" stroke-width="0.22" textLength="67.60" lengthAdjust="spacingAndGlyphs" >Allograft rejection</text>
<text x="63.70" y="329.56" font-size="8.6" fill="#222" stroke="#222" stroke-width="0.22" textLength="52.60" lengthAdjust="spacingAndGlyphs" >IFNγ response</text>
<text x="67.50" y="342.72" font-size="8.6" fill="#222" stroke="#222" stroke-width="0.22" textLength="48.80" lengthAdjust="spacingAndGlyphs" >Complement</text>
<text x="41.70" y="355.88" font-size="8.6" fill="#222" stroke="#222" stroke-width="0.22" textLength="74.60" lengthAdjust="spacingAndGlyphs" >IL2 STAT5 Signaling</text>
<text x="24.20" y="369.04" font-size="8.6" fill="#222" stroke="#222" stroke-width="0.22" textLength="92.10" lengthAdjust="spacingAndGlyphs" >IL6 JAK STAT3 Signaling</text>
<text x="31.10" y="382.20" font-size="8.6" fill="#222" stroke="#222" stroke-width="0.22" textLength="85.20" lengthAdjust="spacingAndGlyphs" >Inflammatory response</text>
<text x="61.90" y="395.36" font-size="8.6" fill="#222" stroke="#222" stroke-width="0.22" textLength="54.40" lengthAdjust="spacingAndGlyphs" >IFNα response</text>
<text x="23.80" y="408.52" font-size="8.6" fill="#222" stroke="#222" stroke-width="0.22" textLength="92.50" lengthAdjust="spacingAndGlyphs" >TNFα signaling via NFκB</text>
<text x="78.80" y="421.68" font-size="8.6" fill="#222" stroke="#222" stroke-width="0.22" textLength="37.50" lengthAdjust="spacingAndGlyphs" >Apoptosis</text>
<text x="45.80" y="434.84" font-size="8.6" fill="#222" stroke="#222" stroke-width="0.22" textLength="70.50" lengthAdjust="spacingAndGlyphs" >KRAS Signaling Up</text>
<text x="64.40" y="448.00" font-size="8.6" fill="#222" stroke="#222" stroke-width="0.22" textLength="51.90" lengthAdjust="spacingAndGlyphs" >Apical surface</text>
<text x="70.80" y="461.16" font-size="8.6" fill="#222" stroke="#222" stroke-width="0.22" textLength="45.50" lengthAdjust="spacingAndGlyphs" >Coagulation</text>
<text x="57.70" y="474.32" font-size="8.6" fill="#222" stroke="#222" stroke-width="0.22" textLength="58.60" lengthAdjust="spacingAndGlyphs" >MYC targets V1</text>
<text x="57.70" y="487.48" font-size="8.6" fill="#222" stroke="#222" stroke-width="0.22" textLength="58.60" lengthAdjust="spacingAndGlyphs" >MYC targets V2</text>
<text x="73.50" y="500.64" font-size="8.6" fill="#222" stroke="#222" stroke-width="0.22" textLength="42.80" lengthAdjust="spacingAndGlyphs" >E2F targets</text>
<text x="54.30" y="513.80" font-size="8.6" fill="#222" stroke="#222" stroke-width="0.22" textLength="62.00" lengthAdjust="spacingAndGlyphs" >G2M checkpoint</text>
<line x1="123.80" y1="305.00" x2="123.80" y2="518.30" stroke="#222" stroke-width="1.1" />
<line x1="123.30" y1="517.80" x2="210.00" y2="517.80" stroke="#222" stroke-width="1.1" />
<line x1="120.20" y1="313.30" x2="123.80" y2="313.30" stroke="#222" stroke-width="0.9" />
<line x1="120.20" y1="326.46" x2="123.80" y2="326.46" stroke="#222" stroke-width="0.9" />
<line x1="120.20" y1="339.62" x2="123.80" y2="339.62" stroke="#222" stroke-width="0.9" />
<line x1="120.20" y1="352.78" x2="123.80" y2="352.78" stroke="#222" stroke-width="0.9" />
<line x1="120.20" y1="365.94" x2="123.80" y2="365.94" stroke="#222" stroke-width="0.9" />
<line x1="120.20" y1="379.10" x2="123.80" y2="379.10" stroke="#222" stroke-width="0.9" />
<line x1="120.20" y1="392.26" x2="123.80" y2="392.26" stroke="#222" stroke-width="0.9" />
<line x1="120.20" y1="405.42" x2="123.80" y2="405.42" stroke="#222" stroke-width="0.9" />
<line x1="120.20" y1="418.58" x2="123.80" y2="418.58" stroke="#222" stroke-width="0.9" />
<line x1="120.20" y1="431.74" x2="123.80" y2="431.74" stroke="#222" stroke-width="0.9" />
<line x1="120.20" y1="444.90" x2="123.80" y2="444.90" stroke="#222" stroke-width="0.9" />
<line x1="120.20" y1="458.06" x2="123.80" y2="458.06" stroke="#222" stroke-width="0.9" />
<line x1="120.20" y1="471.22" x2="123.80" y2="471.22" stroke="#222" stroke-width="0.9" />
<line x1="120.20" y1="484.38" x2="123.80" y2="484.38" stroke="#222" stroke-width="0.9" />
<line x1="120.20" y1="497.54" x2="123.80" y2="497.54" stroke="#222" stroke-width="0.9" />
<line x1="120.20" y1="510.70" x2="123.80" y2="510.70" stroke="#222" stroke-width="0.9" />
<line x1="127.60" y1="517.80" x2="127.60" y2="520.60" stroke="#222" stroke-width="0.9" />
<text x="127.60" y="531.50" font-size="8.6" fill="#222" stroke="#222" stroke-width="0.22" text-anchor="middle" >−2</text>
<line x1="146.63" y1="517.80" x2="146.63" y2="520.60" stroke="#222" stroke-width="0.9" />
<text x="146.63" y="531.50" font-size="8.6" fill="#222" stroke="#222" stroke-width="0.22" text-anchor="middle" >−1</text>
<line x1="165.66" y1="517.80" x2="165.66" y2="520.60" stroke="#222" stroke-width="0.9" />
<text x="165.66" y="531.50" font-size="8.6" fill="#222" stroke="#222" stroke-width="0.22" text-anchor="middle" >0</text>
<line x1="184.69" y1="517.80" x2="184.69" y2="520.60" stroke="#222" stroke-width="0.9" />
<text x="184.69" y="531.50" font-size="8.6" fill="#222" stroke="#222" stroke-width="0.22" text-anchor="middle" >1</text>
<line x1="203.72" y1="517.80" x2="203.72" y2="520.60" stroke="#222" stroke-width="0.9" />
<text x="203.72" y="531.50" font-size="8.6" fill="#222" stroke="#222" stroke-width="0.22" text-anchor="middle" >2</text>
<rect x="165.90" y="308.00" width="39.70" height="5.30" fill="#f08c0c" />
<rect x="165.90" y="313.30" width="41.00" height="5.30" fill="#c00a26" />
<rect x="165.90" y="321.16" width="36.10" height="5.30" fill="#f08c0c" />
<rect x="165.90" y="326.46" width="38.90" height="5.30" fill="#c00a26" />
<rect x="165.90" y="334.32" width="36.50" height="5.30" fill="#f08c0c" />
<rect x="165.90" y="339.62" width="37.10" height="5.30" fill="#c00a26" />
<rect x="165.90" y="347.48" width="36.80" height="5.30" fill="#f08c0c" />
<rect x="165.90" y="352.78" width="35.70" height="5.30" fill="#c00a26" />
<rect x="165.90" y="360.64" width="36.80" height="5.30" fill="#f08c0c" />
<rect x="165.90" y="365.94" width="35.50" height="5.30" fill="#c00a26" />
<rect x="165.90" y="373.80" width="35.10" height="5.30" fill="#f08c0c" />
<rect x="165.90" y="379.10" width="35.50" height="5.30" fill="#c00a26" />
<rect x="165.90" y="386.96" width="33.00" height="5.30" fill="#f08c0c" />
<rect x="165.90" y="392.26" width="36.10" height="5.30" fill="#c00a26" />
<rect x="165.90" y="400.12" width="34.60" height="5.30" fill="#f08c0c" />
<rect x="165.90" y="405.42" width="34.20" height="5.30" fill="#c00a26" />
<rect x="165.90" y="413.28" width="33.00" height="5.30" fill="#f08c0c" />
<rect x="165.90" y="418.58" width="33.80" height="5.30" fill="#c00a26" />
<rect x="165.90" y="426.44" width="31.50" height="5.30" fill="#f08c0c" />
<rect x="165.90" y="431.74" width="30.40" height="5.30" fill="#c00a26" />
<rect x="165.90" y="439.60" width="31.50" height="5.30" fill="#f08c0c" />
<rect x="165.90" y="444.90" width="30.40" height="5.30" fill="#c00a26" />
<rect x="165.90" y="452.76" width="30.80" height="5.30" fill="#f08c0c" />
<rect x="165.90" y="458.06" width="30.40" height="5.30" fill="#c00a26" />
<rect x="131.20" y="465.92" width="34.40" height="5.30" fill="#31a6df" />
<rect x="132.80" y="471.22" width="32.80" height="5.30" fill="#134a7e" />
<rect x="131.60" y="479.08" width="34.00" height="5.30" fill="#31a6df" />
<rect x="131.80" y="484.38" width="33.80" height="5.30" fill="#134a7e" />
<rect x="127.30" y="492.24" width="38.30" height="5.30" fill="#31a6df" />
<rect x="130.70" y="497.54" width="34.90" height="5.30" fill="#134a7e" />
<rect x="128.00" y="505.40" width="37.60" height="5.30" fill="#31a6df" />
<rect x="130.10" y="510.70" width="35.50" height="5.30" fill="#134a7e" />
<text x="146.80" y="543.72" font-size="9.5" fill="#1a1a1a" stroke="#1a1a1a" stroke-width="0.22" textLength="40.40" lengthAdjust="spacingAndGlyphs" >Normalized</text>
<text x="126.50" y="556.02" font-size="9.5" fill="#1a1a1a" stroke="#1a1a1a" stroke-width="0.22" textLength="80.80" lengthAdjust="spacingAndGlyphs" >enrichment score (NES)</text>
<rect x="115.00" y="565.80" width="6.10" height="5.80" fill="#134a7e" />
<text x="125.00" y="571.24" font-size="7.6" fill="#222" stroke="#222" stroke-width="0.22" textLength="34.60" lengthAdjust="spacingAndGlyphs" >ABC Cold</text>
<rect x="168.40" y="565.80" width="6.10" height="5.80" fill="#c00a26" />
<text x="178.00" y="571.24" font-size="7.6" fill="#222" stroke="#222" stroke-width="0.22" textLength="30.50" lengthAdjust="spacingAndGlyphs" >ABC Hot</text>
<rect x="115.00" y="576.00" width="6.10" height="5.80" fill="#31a6df" />
<text x="125.00" y="581.24" font-size="7.6" fill="#222" stroke="#222" stroke-width="0.22" textLength="35.00" lengthAdjust="spacingAndGlyphs" >GCB Cold</text>
<rect x="168.40" y="576.00" width="6.10" height="5.80" fill="#f08c0c" />
<text x="178.00" y="581.24" font-size="7.6" fill="#222" stroke="#222" stroke-width="0.22" textLength="31.60" lengthAdjust="spacingAndGlyphs" >GCB Hot</text>
<defs><linearGradient id="gABC" x1="0" x2="1" y1="0" y2="0"><stop offset="0" stop-color="#f2a0a0"/><stop offset="0.12" stop-color="#f6eef2"/><stop offset="0.25" stop-color="#e6e4f4"/><stop offset="1" stop-color="#6a6ac6"/></linearGradient><linearGradient id="gGCB" x1="0" x2="1" y1="0" y2="0"><stop offset="0" stop-color="#f8d49c"/><stop offset="0.25" stop-color="#fbf3ea"/><stop offset="0.45" stop-color="#eef6fb"/><stop offset="1" stop-color="#9fd4ef"/></linearGradient></defs>
<text x="366.00" y="284.92" font-size="8.4" fill="#222" stroke="#222" stroke-width="0.22" textLength="43.60" lengthAdjust="spacingAndGlyphs" >HALLMARK</text>
<text x="356.30" y="294.42" font-size="8.4" fill="#222" stroke="#222" stroke-width="0.22" textLength="62.90" lengthAdjust="spacingAndGlyphs" >G2M Checkpoint</text>
<text x="365.50" y="434.22" font-size="8.4" fill="#222" stroke="#222" stroke-width="0.22" textLength="44.90" lengthAdjust="spacingAndGlyphs" >HALLMARK</text>
<text x="352.20" y="444.22" font-size="8.4" fill="#222" stroke="#222" stroke-width="0.22" textLength="70.90" lengthAdjust="spacingAndGlyphs" >MYC TARGETS V2</text>
<rect x="271.50" y="306.10" width="92.50" height="98.50" fill="#fff" stroke="none"/>
<rect x="272.00" y="380.30" width="4.70" height="17.40" fill="#cfcfcf" />
<rect x="284.90" y="380.30" width="2.20" height="17.40" fill="#8a8a8a" />
<rect x="288.80" y="380.30" width="1.60" height="17.40" fill="#555" />
<rect x="291.90" y="380.30" width="1.20" height="17.40" fill="#777" />
<rect x="294.80" y="380.30" width="1.20" height="17.40" fill="#777" />
<rect x="297.90" y="380.30" width="1.40" height="17.40" fill="#444" />
<rect x="301.30" y="380.30" width="4.30" height="17.40" fill="#9a9a9a" />
<rect x="309.40" y="380.30" width="1.50" height="17.40" fill="#777" />
<rect x="312.80" y="380.30" width="2.40" height="17.40" fill="#bbb" />
<rect x="315.70" y="380.30" width="1.40" height="17.40" fill="#888" />
<rect x="319.80" y="380.30" width="1.00" height="17.40" fill="#444" />
<rect x="320.80" y="380.30" width="2.40" height="17.40" fill="#999" />
<rect x="323.20" y="380.30" width="1.00" height="17.40" fill="#555" />
<rect x="324.20" y="380.30" width="2.40" height="17.40" fill="#ccc" />
<rect x="328.00" y="380.30" width="2.00" height="17.40" fill="#555" />
<rect x="330.00" y="380.30" width="2.80" height="17.40" fill="#aaa" />
<rect x="332.80" y="380.30" width="1.50" height="17.40" fill="#888" />
<rect x="334.30" y="380.30" width="1.90" height="17.40" fill="#ccc" />
<rect x="337.30" y="380.30" width="1.80" height="17.40" fill="#111" />
<rect x="339.10" y="380.30" width="2.10" height="17.40" fill="#ddd" />
<rect x="341.20" y="380.30" width="2.20" height="17.40" fill="#333" />
<rect x="343.40" y="380.30" width="1.40" height="17.40" fill="#666" />
<rect x="344.80" y="380.30" width="2.00" height="17.40" fill="#333" />
<rect x="346.80" y="380.30" width="1.90" height="17.40" fill="#888" />
<rect x="348.70" y="380.30" width="1.40" height="17.40" fill="#bbb" />
<rect x="350.10" y="380.30" width="3.40" height="17.40" fill="#222" />
<rect x="353.50" y="380.30" width="1.90" height="17.40" fill="#444" />
<rect x="355.40" y="380.30" width="2.90" height="17.40" fill="#333" />
<rect x="358.30" y="380.30" width="1.50" height="17.40" fill="#888" />
<rect x="359.80" y="380.30" width="3.80" height="17.40" fill="#1a1a1a" />
<rect x="271.50" y="397.70" width="92.50" height="6.90" fill="url(#gABC)" />
<line x1="271.50" y1="306.10" x2="364.00" y2="306.10" stroke="#8a8a8a" stroke-width="1.1" />
<line x1="364.00" y1="306.10" x2="364.00" y2="404.60" stroke="#b0b0b0" stroke-width="0.8" />
<line x1="271.50" y1="380.30" x2="364.00" y2="380.30" stroke="#555" stroke-width="0.9" />
<line x1="271.50" y1="397.70" x2="364.00" y2="397.70" stroke="#666" stroke-width="0.8" />
<line x1="271.50" y1="404.60" x2="364.00" y2="404.60" stroke="#777" stroke-width="0.9" />
<line x1="271.50" y1="305.60" x2="271.50" y2="405.10" stroke="#444" stroke-width="1.1" />
<line x1="273.50" y1="309.20" x2="363.00" y2="309.20" stroke="#9a9a9a" stroke-width="0.8" stroke-dasharray="1.6,2.2"/>
<text x="267.30" y="309.65" font-size="8.2" fill="#333" stroke="#333" stroke-width="0.22" text-anchor="end" >0.0</text>
<line x1="270.10" y1="306.70" x2="271.50" y2="306.70" stroke="#555" stroke-width="0.9" />
<text x="267.30" y="321.75" font-size="8.2" fill="#333" stroke="#333" stroke-width="0.22" text-anchor="end" >−0.1</text>
<line x1="270.10" y1="318.80" x2="271.50" y2="318.80" stroke="#555" stroke-width="0.9" />
<text x="267.30" y="332.15" font-size="8.2" fill="#333" stroke="#333" stroke-width="0.22" text-anchor="end" >−0.2</text>
<line x1="270.10" y1="329.20" x2="271.50" y2="329.20" stroke="#555" stroke-width="0.9" />
<text x="267.30" y="342.85" font-size="8.2" fill="#333" stroke="#333" stroke-width="0.22" text-anchor="end" >−0.3</text>
<line x1="270.10" y1="339.90" x2="271.50" y2="339.90" stroke="#555" stroke-width="0.9" />
<text x="267.30" y="353.25" font-size="8.2" fill="#333" stroke="#333" stroke-width="0.22" text-anchor="end" >−0.4</text>
<line x1="270.10" y1="350.30" x2="271.50" y2="350.30" stroke="#555" stroke-width="0.9" />
<text x="267.30" y="363.45" font-size="8.2" fill="#333" stroke="#333" stroke-width="0.22" text-anchor="end" >−0.5</text>
<line x1="270.10" y1="360.50" x2="271.50" y2="360.50" stroke="#555" stroke-width="0.9" />
<text x="267.30" y="373.65" font-size="8.2" fill="#333" stroke="#333" stroke-width="0.22" text-anchor="end" >−0.6</text>
<line x1="270.10" y1="370.70" x2="271.50" y2="370.70" stroke="#555" stroke-width="0.9" />
<text x="267.30" y="383.65" font-size="8.2" fill="#333" stroke="#333" stroke-width="0.22" text-anchor="end" >−0.7</text>
<line x1="270.10" y1="380.70" x2="271.50" y2="380.70" stroke="#555" stroke-width="0.9" />
<text transform="translate(244.80,343.60) rotate(-90)" font-size="9.4" fill="#2a2a2a" stroke="#2a2a2a" stroke-width="0.22" text-anchor="middle" textLength="41" lengthAdjust="spacingAndGlyphs">Running ES</text>
<polyline points="271.50,308.60 274.00,309.40 276.10,310.40 280.00,314.40 284.20,319.00 287.00,321.80 290.20,324.30 295.50,329.60 301.30,335.30 307.50,341.50 313.50,347.60 319.50,354.20 325.60,361.20 330.00,366.50 334.70,372.00 338.00,375.50 340.70,377.00 345.00,377.20 349.80,377.20 352.80,375.20 355.30,369.80 356.90,363.50 358.30,353.50 360.50,340.00 362.40,325.00 363.50,314.00 364.00,308.60" fill="none" stroke="#cf2f3c" stroke-width="1.0" stroke-linejoin="round"/>
<text x="275.60" y="415.72" font-size="8.4" fill="#c62c4a" stroke="#c62c4a" stroke-width="0.1" textLength="32.50" lengthAdjust="spacingAndGlyphs" >ABC Hot</text>
<text x="332.50" y="415.72" font-size="8.4" fill="#46689a" stroke="#46689a" stroke-width="0.1" textLength="36.90" lengthAdjust="spacingAndGlyphs" >ABC Cold</text>
<rect x="410.40" y="306.50" width="91.80" height="97.90" fill="#fff" stroke="none"/>
<rect x="412.80" y="380.20" width="1.90" height="17.70" fill="#aaa" />
<rect x="421.50" y="380.20" width="2.50" height="17.70" fill="#a0a0a0" />
<rect x="424.00" y="380.20" width="0.80" height="17.70" fill="#777" />
<rect x="425.80" y="380.20" width="0.70" height="17.70" fill="#666" />
<rect x="427.70" y="380.20" width="1.00" height="17.70" fill="#777" />
<rect x="432.00" y="380.20" width="1.00" height="17.70" fill="#888" />
<rect x="436.80" y="380.20" width="1.20" height="17.70" fill="#444" />
<rect x="444.00" y="380.20" width="1.70" height="17.70" fill="#999" />
<rect x="447.00" y="380.20" width="1.20" height="17.70" fill="#555" />
<rect x="455.00" y="380.20" width="3.00" height="17.70" fill="#a5a5a5" />
<rect x="458.00" y="380.20" width="1.30" height="17.70" fill="#ccc" />
<rect x="459.30" y="380.20" width="1.50" height="17.70" fill="#999" />
<rect x="460.80" y="380.20" width="2.40" height="17.70" fill="#ddd" />
<rect x="463.20" y="380.20" width="1.40" height="17.70" fill="#333" />
<rect x="468.00" y="380.20" width="3.30" height="17.70" fill="#bbb" />
<rect x="471.30" y="380.20" width="2.00" height="17.70" fill="#222" />
<rect x="473.30" y="380.20" width="1.90" height="17.70" fill="#888" />
<rect x="475.20" y="380.20" width="1.40" height="17.70" fill="#222" />
<rect x="476.60" y="380.20" width="1.40" height="17.70" fill="#eee" />
<rect x="478.00" y="380.20" width="2.50" height="17.70" fill="#222" />
<rect x="480.50" y="380.20" width="2.40" height="17.70" fill="#555" />
<rect x="482.90" y="380.20" width="1.90" height="17.70" fill="#777" />
<rect x="484.80" y="380.20" width="1.90" height="17.70" fill="#444" />
<rect x="486.70" y="380.20" width="2.00" height="17.70" fill="#666" />
<rect x="488.70" y="380.20" width="3.30" height="17.70" fill="#222" />
<rect x="492.00" y="380.20" width="1.50" height="17.70" fill="#888" />
<rect x="493.50" y="380.20" width="1.90" height="17.70" fill="#333" />
<rect x="495.40" y="380.20" width="1.90" height="17.70" fill="#777" />
<rect x="497.30" y="380.20" width="4.70" height="17.70" fill="#222" />
<rect x="410.40" y="397.90" width="91.80" height="6.50" fill="url(#gGCB)" />
<line x1="410.40" y1="306.50" x2="502.20" y2="306.50" stroke="#8a8a8a" stroke-width="1.1" />
<line x1="502.20" y1="306.50" x2="502.20" y2="404.40" stroke="#b0b0b0" stroke-width="0.8" />
<line x1="410.40" y1="380.20" x2="502.20" y2="380.20" stroke="#555" stroke-width="0.9" />
<line x1="410.40" y1="397.90" x2="502.20" y2="397.90" stroke="#666" stroke-width="0.8" />
<line x1="410.40" y1="404.40" x2="502.20" y2="404.40" stroke="#777" stroke-width="0.9" />
<line x1="410.40" y1="306.00" x2="410.40" y2="404.90" stroke="#444" stroke-width="1.1" />
<line x1="412.40" y1="309.20" x2="501.20" y2="309.20" stroke="#9a9a9a" stroke-width="0.8" stroke-dasharray="1.6,2.2"/>
<text x="405.50" y="312.35" font-size="8.2" fill="#333" stroke="#333" stroke-width="0.22" text-anchor="end" >0.0</text>
<line x1="409.00" y1="309.40" x2="410.40" y2="309.40" stroke="#555" stroke-width="0.9" />
<text x="405.50" y="322.05" font-size="8.2" fill="#333" stroke="#333" stroke-width="0.22" text-anchor="end" >−0.1</text>
<line x1="409.00" y1="319.10" x2="410.40" y2="319.10" stroke="#555" stroke-width="0.9" />
<text x="405.50" y="331.95" font-size="8.2" fill="#333" stroke="#333" stroke-width="0.22" text-anchor="end" >−0.2</text>
<line x1="409.00" y1="329.00" x2="410.40" y2="329.00" stroke="#555" stroke-width="0.9" />
<text x="405.50" y="342.35" font-size="8.2" fill="#333" stroke="#333" stroke-width="0.22" text-anchor="end" >−0.3</text>
<line x1="409.00" y1="339.40" x2="410.40" y2="339.40" stroke="#555" stroke-width="0.9" />
<text x="405.50" y="352.15" font-size="8.2" fill="#333" stroke="#333" stroke-width="0.22" text-anchor="end" >−0.4</text>
<line x1="409.00" y1="349.20" x2="410.40" y2="349.20" stroke="#555" stroke-width="0.9" />
<text x="405.50" y="361.75" font-size="8.2" fill="#333" stroke="#333" stroke-width="0.22" text-anchor="end" >−0.5</text>
<line x1="409.00" y1="358.80" x2="410.40" y2="358.80" stroke="#555" stroke-width="0.9" />
<text x="405.50" y="371.95" font-size="8.2" fill="#333" stroke="#333" stroke-width="0.22" text-anchor="end" >−0.6</text>
<line x1="409.00" y1="369.00" x2="410.40" y2="369.00" stroke="#555" stroke-width="0.9" />
<text x="405.50" y="381.55" font-size="8.2" fill="#333" stroke="#333" stroke-width="0.22" text-anchor="end" >−0.7</text>
<line x1="409.00" y1="378.60" x2="410.40" y2="378.60" stroke="#555" stroke-width="0.9" />
<text transform="translate(382.50,344.60) rotate(-90)" font-size="9.4" fill="#2a2a2a" stroke="#2a2a2a" stroke-width="0.22" text-anchor="middle" textLength="41" lengthAdjust="spacingAndGlyphs">Running ES</text>
<polyline points="410.40,309.20 413.00,311.60 416.50,314.40 420.00,317.60 424.20,321.20 429.00,327.00 433.80,332.70 438.60,338.00 443.50,343.30 448.30,348.50 453.10,353.80 458.00,358.80 462.70,363.50 467.50,368.00 472.30,372.10 476.00,374.50 480.00,376.00 483.00,376.80 485.80,377.30 488.00,377.00 490.60,376.50 493.50,374.50 496.30,371.20 498.00,368.00 499.20,363.50 500.30,352.00 501.20,338.50 501.80,322.00 502.10,310.50" fill="none" stroke="#cf2f3c" stroke-width="1.0" stroke-linejoin="round"/>
<text x="441.90" y="316.82" font-size="8.4" fill="#222" stroke="#222" stroke-width="0.22" textLength="18.90" lengthAdjust="spacingAndGlyphs" ><tspan font-style="italic">P</tspan> = 0</text>
<text x="441.90" y="327.02" font-size="8.4" fill="#222" stroke="#222" stroke-width="0.22" textLength="40.40" lengthAdjust="spacingAndGlyphs" >q = 0.0076</text>
<text x="441.90" y="337.22" font-size="8.4" fill="#222" stroke="#222" stroke-width="0.22" textLength="55.00" lengthAdjust="spacingAndGlyphs" >NES = −2.0307</text>
<text x="411.60" y="415.62" font-size="8.4" fill="#efaa58" stroke="#efaa58" stroke-width="0.1" textLength="33.70" lengthAdjust="spacingAndGlyphs" >GCB Hot</text>
<text x="469.20" y="415.62" font-size="8.4" fill="#6aa9d4" stroke="#6aa9d4" stroke-width="0.1" textLength="37.10" lengthAdjust="spacingAndGlyphs" >GCB Cold</text>
<rect x="270.40" y="451.40" width="92.20" height="92.80" fill="#fff" stroke="none"/>
<rect x="285.00" y="525.40" width="0.80" height="13.40" fill="#555" />
<rect x="309.00" y="525.40" width="0.80" height="13.40" fill="#555" />
<rect x="322.30" y="525.40" width="0.60" height="13.40" fill="#666" />
<rect x="330.90" y="525.40" width="1.00" height="13.40" fill="#777" />
<rect x="334.80" y="525.40" width="0.90" height="13.40" fill="#888" />
<rect x="336.20" y="525.40" width="1.00" height="13.40" fill="#bbb" />
<rect x="337.90" y="525.40" width="1.20" height="13.40" fill="#555" />
<rect x="340.00" y="525.40" width="1.20" height="13.40" fill="#333" />
<rect x="343.90" y="525.40" width="0.90" height="13.40" fill="#555" />
<rect x="345.80" y="525.40" width="1.50" height="13.40" fill="#ccc" />
<rect x="347.30" y="525.40" width="1.90" height="13.40" fill="#999" />
<rect x="349.20" y="525.40" width="1.90" height="13.40" fill="#888" />
<rect x="351.10" y="525.40" width="2.50" height="13.40" fill="#bbb" />
<rect x="354.00" y="525.40" width="1.40" height="13.40" fill="#222" />
<rect x="355.40" y="525.40" width="2.90" height="13.40" fill="#555" />
<rect x="358.30" y="525.40" width="2.90" height="13.40" fill="#444" />
<rect x="361.20" y="525.40" width="1.20" height="13.40" fill="#888" />
<rect x="270.40" y="538.80" width="92.20" height="5.40" fill="url(#gABC)" />
<line x1="270.40" y1="451.40" x2="362.60" y2="451.40" stroke="#8a8a8a" stroke-width="1.1" />
<line x1="362.60" y1="451.40" x2="362.60" y2="544.20" stroke="#b0b0b0" stroke-width="0.8" />
<line x1="270.40" y1="525.40" x2="362.60" y2="525.40" stroke="#555" stroke-width="0.9" />
<line x1="270.40" y1="538.80" x2="362.60" y2="538.80" stroke="#666" stroke-width="0.8" />
<line x1="270.40" y1="544.20" x2="362.60" y2="544.20" stroke="#777" stroke-width="0.9" />
<line x1="270.40" y1="450.90" x2="270.40" y2="544.70" stroke="#444" stroke-width="1.1" />
<line x1="272.40" y1="454.40" x2="361.60" y2="454.40" stroke="#9a9a9a" stroke-width="0.8" stroke-dasharray="1.6,2.2"/>
<text x="266.50" y="454.35" font-size="8.2" fill="#333" stroke="#333" stroke-width="0.22" text-anchor="end" >0.0</text>
<line x1="269.00" y1="451.40" x2="270.40" y2="451.40" stroke="#555" stroke-width="0.9" />
<text x="266.50" y="467.05" font-size="8.2" fill="#333" stroke="#333" stroke-width="0.22" text-anchor="end" >−0.1</text>
<line x1="269.00" y1="464.10" x2="270.40" y2="464.10" stroke="#555" stroke-width="0.9" />
<text x="266.50" y="476.95" font-size="8.2" fill="#333" stroke="#333" stroke-width="0.22" text-anchor="end" >−0.2</text>
<line x1="269.00" y1="474.00" x2="270.40" y2="474.00" stroke="#555" stroke-width="0.9" />
<text x="266.50" y="487.35" font-size="8.2" fill="#333" stroke="#333" stroke-width="0.22" text-anchor="end" >−0.3</text>
<line x1="269.00" y1="484.40" x2="270.40" y2="484.40" stroke="#555" stroke-width="0.9" />
<text x="266.50" y="497.55" font-size="8.2" fill="#333" stroke="#333" stroke-width="0.22" text-anchor="end" >−0.4</text>
<line x1="269.00" y1="494.60" x2="270.40" y2="494.60" stroke="#555" stroke-width="0.9" />
<text x="266.50" y="507.75" font-size="8.2" fill="#333" stroke="#333" stroke-width="0.22" text-anchor="end" >−0.5</text>
<line x1="269.00" y1="504.80" x2="270.40" y2="504.80" stroke="#555" stroke-width="0.9" />
<text x="266.50" y="518.15" font-size="8.2" fill="#333" stroke="#333" stroke-width="0.22" text-anchor="end" >−0.6</text>
<line x1="269.00" y1="515.20" x2="270.40" y2="515.20" stroke="#555" stroke-width="0.9" />
<text x="266.50" y="528.55" font-size="8.2" fill="#333" stroke="#333" stroke-width="0.22" text-anchor="end" >−0.7</text>
<line x1="269.00" y1="525.60" x2="270.40" y2="525.60" stroke="#555" stroke-width="0.9" />
<text transform="translate(244.00,492.00) rotate(-90)" font-size="9.4" fill="#2a2a2a" stroke="#2a2a2a" stroke-width="0.22" text-anchor="middle" textLength="41" lengthAdjust="spacingAndGlyphs">Running ES</text>
<polyline points="270.50,454.50 276.00,459.60 283.20,466.20 288.50,471.30 293.70,476.30 299.00,481.80 304.30,487.30 309.60,492.60 314.90,497.90 320.20,503.20 325.50,508.50 329.70,513.30 333.90,518.00 336.00,519.60 338.20,520.70 341.00,521.60 343.40,522.20 345.00,522.60 346.60,522.80 348.70,521.20 350.50,518.00 351.90,514.80 354.00,508.50 356.10,497.90 358.30,487.30 360.40,476.70 361.40,464.00 362.20,458.00 362.90,454.00" fill="none" stroke="#cf2f3c" stroke-width="1.0" stroke-linejoin="round"/>
<text x="298.40" y="461.12" font-size="8.4" fill="#222" stroke="#222" stroke-width="0.22" textLength="30.90" lengthAdjust="spacingAndGlyphs" ><tspan font-style="italic">P</tspan> = .004</text>
<text x="298.40" y="471.32" font-size="8.4" fill="#222" stroke="#222" stroke-width="0.22" textLength="39.30" lengthAdjust="spacingAndGlyphs" >q = 0.0223</text>
<text x="298.40" y="481.52" font-size="8.4" fill="#222" stroke="#222" stroke-width="0.22" textLength="55.60" lengthAdjust="spacingAndGlyphs" >NES = −1.8063</text>
<text x="275.50" y="556.42" font-size="8.4" fill="#c62c4a" stroke="#c62c4a" stroke-width="0.1" textLength="32.90" lengthAdjust="spacingAndGlyphs" >ABC Hot</text>
<text x="332.60" y="556.42" font-size="8.4" fill="#46689a" stroke="#46689a" stroke-width="0.1" textLength="36.80" lengthAdjust="spacingAndGlyphs" >ABC Cold</text>
<rect x="408.50" y="451.40" width="92.10" height="92.70" fill="#fff" stroke="none"/>
<rect x="413.20" y="525.30" width="0.70" height="13.50" fill="#888" />
<rect x="442.40" y="525.30" width="0.60" height="13.50" fill="#777" />
<rect x="443.90" y="525.30" width="0.60" height="13.50" fill="#555" />
<rect x="469.00" y="525.30" width="1.90" height="13.50" fill="#bbb" />
<rect x="471.80" y="525.30" width="1.00" height="13.50" fill="#333" />
<rect x="475.70" y="525.30" width="1.90" height="13.50" fill="#ccc" />
<rect x="479.00" y="525.30" width="4.80" height="13.50" fill="#aaa" />
<rect x="483.80" y="525.30" width="2.90" height="13.50" fill="#333" />
<rect x="486.70" y="525.30" width="2.40" height="13.50" fill="#222" />
<rect x="489.10" y="525.30" width="1.50" height="13.50" fill="#888" />
<rect x="490.60" y="525.30" width="3.80" height="13.50" fill="#bbb" />
<rect x="494.90" y="525.30" width="2.40" height="13.50" fill="#333" />
<rect x="497.30" y="525.30" width="3.10" height="13.50" fill="#555" />
<rect x="408.50" y="538.80" width="92.10" height="5.30" fill="url(#gGCB)" />
<line x1="408.50" y1="451.40" x2="500.60" y2="451.40" stroke="#8a8a8a" stroke-width="1.1" />
<line x1="500.60" y1="451.40" x2="500.60" y2="544.10" stroke="#b0b0b0" stroke-width="0.8" />
<line x1="408.50" y1="525.30" x2="500.60" y2="525.30" stroke="#555" stroke-width="0.9" />
<line x1="408.50" y1="538.80" x2="500.60" y2="538.80" stroke="#666" stroke-width="0.8" />
<line x1="408.50" y1="544.10" x2="500.60" y2="544.10" stroke="#777" stroke-width="0.9" />
<line x1="408.50" y1="450.90" x2="408.50" y2="544.60" stroke="#444" stroke-width="1.1" />
<line x1="410.50" y1="454.40" x2="499.60" y2="454.40" stroke="#9a9a9a" stroke-width="0.8" stroke-dasharray="1.6,2.2"/>
<text x="405.50" y="457.45" font-size="8.2" fill="#333" stroke="#333" stroke-width="0.22" text-anchor="end" >0.0</text>
<line x1="407.10" y1="454.50" x2="408.50" y2="454.50" stroke="#555" stroke-width="0.9" />
<text x="405.50" y="467.05" font-size="8.2" fill="#333" stroke="#333" stroke-width="0.22" text-anchor="end" >−0.1</text>
<line x1="407.10" y1="464.10" x2="408.50" y2="464.10" stroke="#555" stroke-width="0.9" />
<text x="405.50" y="476.95" font-size="8.2" fill="#333" stroke="#333" stroke-width="0.22" text-anchor="end" >−0.2</text>
<line x1="407.10" y1="474.00" x2="408.50" y2="474.00" stroke="#555" stroke-width="0.9" />
<text x="405.50" y="486.85" font-size="8.2" fill="#333" stroke="#333" stroke-width="0.22" text-anchor="end" >−0.3</text>
<line x1="407.10" y1="483.90" x2="408.50" y2="483.90" stroke="#555" stroke-width="0.9" />
<text x="405.50" y="496.85" font-size="8.2" fill="#333" stroke="#333" stroke-width="0.22" text-anchor="end" >−0.4</text>
<line x1="407.10" y1="493.90" x2="408.50" y2="493.90" stroke="#555" stroke-width="0.9" />
<text x="405.50" y="506.45" font-size="8.2" fill="#333" stroke="#333" stroke-width="0.22" text-anchor="end" >−0.5</text>
<line x1="407.10" y1="503.50" x2="408.50" y2="503.50" stroke="#555" stroke-width="0.9" />
<text x="405.50" y="515.85" font-size="8.2" fill="#333" stroke="#333" stroke-width="0.22" text-anchor="end" >−0.6</text>
<line x1="407.10" y1="512.90" x2="408.50" y2="512.90" stroke="#555" stroke-width="0.9" />
<text x="405.50" y="525.85" font-size="8.2" fill="#333" stroke="#333" stroke-width="0.22" text-anchor="end" >−0.7</text>
<line x1="407.10" y1="522.90" x2="408.50" y2="522.90" stroke="#555" stroke-width="0.9" />
<text transform="translate(382.50,490.40) rotate(-90)" font-size="9.4" fill="#2a2a2a" stroke="#2a2a2a" stroke-width="0.22" text-anchor="middle" textLength="41" lengthAdjust="spacingAndGlyphs">Running ES</text>
<polyline points="408.50,453.90 411.00,455.00 413.80,456.60 417.50,460.00 421.20,464.00 426.50,469.30 431.70,474.60 437.00,479.90 442.30,485.20 447.60,490.50 452.90,495.80 458.20,501.00 463.50,506.30 467.70,510.60 471.90,514.80 475.00,517.40 478.30,519.50 481.00,521.00 483.60,522.20 485.70,520.10 487.00,514.00 487.80,508.50 489.90,497.90 491.40,492.60 494.10,490.50 496.30,483.10 498.40,474.60 499.60,462.00 500.50,453.50" fill="none" stroke="#cf2f3c" stroke-width="1.0" stroke-linejoin="round"/>
<text x="439.10" y="461.12" font-size="8.4" fill="#222" stroke="#222" stroke-width="0.22" textLength="30.90" lengthAdjust="spacingAndGlyphs" ><tspan font-style="italic">P</tspan> = .018</text>
<text x="439.10" y="471.32" font-size="8.4" fill="#222" stroke="#222" stroke-width="0.22" textLength="39.30" lengthAdjust="spacingAndGlyphs" >q = 0.0249</text>
<text x="439.10" y="481.52" font-size="8.4" fill="#222" stroke="#222" stroke-width="0.22" textLength="55.00" lengthAdjust="spacingAndGlyphs" >NES = −1.7783</text>
<text x="411.50" y="556.42" font-size="8.4" fill="#efaa58" stroke="#efaa58" stroke-width="0.1" textLength="33.90" lengthAdjust="spacingAndGlyphs" >GCB Hot</text>
<text x="468.60" y="556.42" font-size="8.4" fill="#6aa9d4" stroke="#6aa9d4" stroke-width="0.1" textLength="37.60" lengthAdjust="spacingAndGlyphs" >GCB Cold</text>
</svg>
</body></html>
